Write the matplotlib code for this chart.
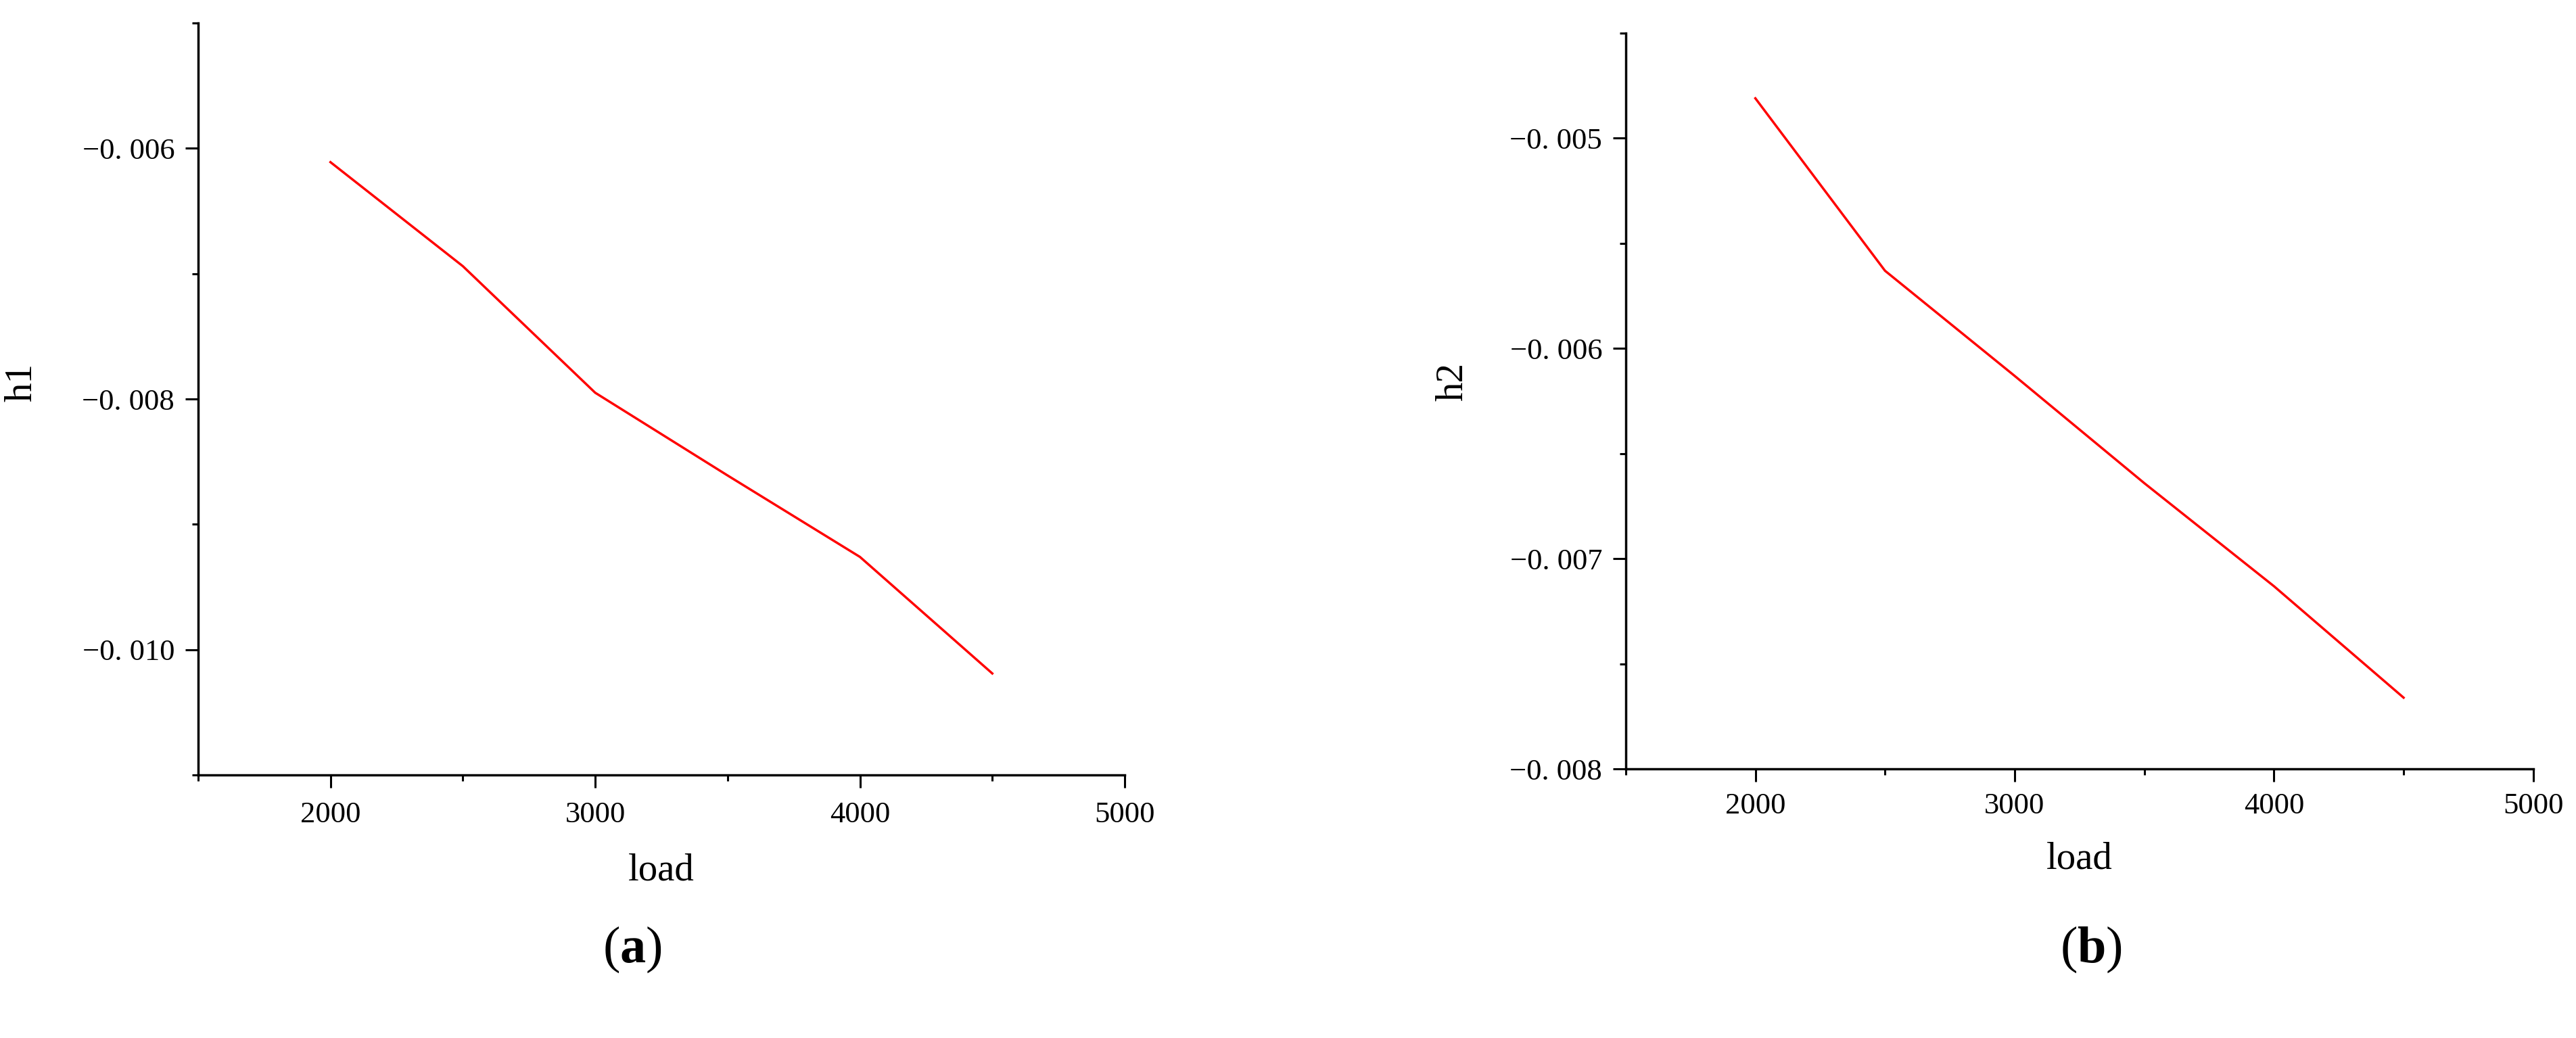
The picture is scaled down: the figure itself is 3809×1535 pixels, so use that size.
import matplotlib
matplotlib.use("Agg")
import matplotlib.pyplot as plt
from matplotlib.ticker import MultipleLocator, FuncFormatter

plt.rcParams['font.family'] = ['Liberation Serif', 'DejaVu Serif']
plt.rcParams['mathtext.fontset'] = 'custom'
plt.rcParams['mathtext.rm'] = 'Liberation Serif'
plt.rcParams['mathtext.bf'] = 'Liberation Serif:bold'

# data
load = [2000, 2500, 3000, 3500, 4000, 4500]
h1 = [-0.00611, -0.00694, -0.00795, -0.00861, -0.00926, -0.01019]
h2 = [-0.00481, -0.00563, -0.00613, -0.00664, -0.00713, -0.00766]


def fmt_y(v, pos):
    return '\u22120. %03d' % round(-v * 1000)


def style_axes(ax, ylim, ymajor, xpad):
    for side in ('top', 'right'):
        ax.spines[side].set_visible(False)
    for side in ('left', 'bottom'):
        ax.spines[side].set_linewidth(2.5)
    ax.set_xlim(1500, 5000)
    ax.set_ylim(*ylim)
    ax.xaxis.set_major_locator(MultipleLocator(1000))
    ax.xaxis.set_minor_locator(MultipleLocator(500))
    ax.yaxis.set_major_locator(MultipleLocator(ymajor))
    ax.yaxis.set_minor_locator(MultipleLocator(ymajor / 2))
    ax.yaxis.set_major_formatter(FuncFormatter(fmt_y))
    ax.tick_params(which='major', length=14, width=2.2, labelsize=32)
    ax.tick_params(which='minor', length=6.5, width=2.2)
    ax.tick_params(axis='x', which='major', pad=xpad)
    ax.tick_params(axis='y', which='major', pad=11)


fig = plt.figure(figsize=(38.09, 15.35), dpi=100)

ax1 = fig.add_axes([0.0769, 0.2534, 0.3597, 0.7244])
ax1.plot(load, h1, color='red', linewidth=2.5)
style_axes(ax1, (-0.011, -0.005), 0.002, 14)
ax1.set_xlabel('load', fontsize=41)
ax1.set_ylabel('h1', fontsize=41)
ax1.xaxis.set_label_coords(0.5, -141 / 1112)
ax1.xaxis.label.set_verticalalignment('center')
ax1.yaxis.set_label_coords(-260 / 1370, 0.522)
ax1.yaxis.label.set_verticalalignment('center')

ax2 = fig.add_axes([0.6311, 0.259, 0.3523, 0.7091])
ax2.plot(load, h2, color='red', linewidth=2.5)
style_axes(ax2, (-0.008, -0.0045), 0.001, 11)
ax2.set_xlabel('load', fontsize=41)
ax2.set_ylabel('h2', fontsize=41)
ax2.xaxis.set_label_coords(0.5, -133 / 1088.5)
ax2.xaxis.label.set_verticalalignment('center')
ax2.yaxis.set_label_coords(-255 / 1342, 0.526)
ax2.yaxis.label.set_verticalalignment('center')

fig.text(935 / 3809, 1 - 1404 / 1535, r'($\mathbf{a}$)', fontsize=55,
         ha='center', va='center')
fig.text(3092 / 3809, 1 - 1404 / 1535, r'($\mathbf{b}$)', fontsize=55,
         ha='center', va='center')

fig.savefig('out.png', dpi=100)
